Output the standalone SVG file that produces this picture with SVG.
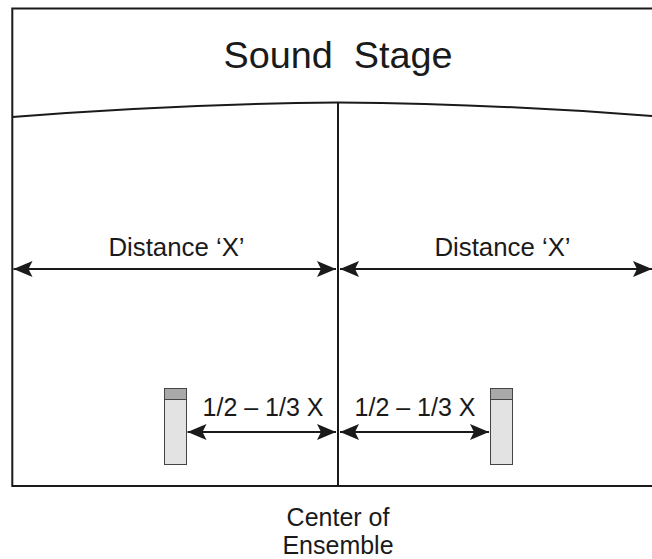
<svg xmlns="http://www.w3.org/2000/svg" width="652" height="559" viewBox="0 0 652 559">
<style>
text{font-family:"Liberation Sans",Arial,sans-serif;fill:#1a1a1a;text-anchor:middle}
.l{fill:none;stroke:#1a1a1a;stroke-width:2}
.a{fill:none;stroke:#1a1a1a;stroke-width:2;marker-start:url(#h);marker-end:url(#h)}
.b{fill:#e3e3e3;stroke:#444;stroke-width:1}
.c{fill:#a9a9a9;stroke:#444;stroke-width:1}
.m{font-size:25px}
</style>
<defs><marker id="h" viewBox="0 0 20 16" refX="19" refY="8" markerWidth="20" markerHeight="16" markerUnits="userSpaceOnUse" orient="auto-start-reverse"><path d="M0 0L19 8L0 16L4 8Z" fill="#1a1a1a"/></marker></defs>
<rect width="652" height="559" fill="#fff"/>
<g id="stage-frame"><path class="l" d="M652 8.500H12.300V486H652"/></g>
<g id="stage-edge"><path class="l" d="M12.300 117Q180 104 338 102.500Q500 104 652 116"/></g>
<g id="center-line"><path class="l" d="M338 102.500V486"/></g>
<g id="connectors">
<path class="a" d="M13.500 269H336"/>
<path class="a" d="M340 269H652"/>
<path class="a" d="M187.500 432H336"/>
<path class="a" d="M340 432H489"/>
</g>
<g id="speaker-left"><rect class="b" x="164.500" y="388.500" width="22" height="76"/><rect class="c" x="164.500" y="388.500" width="22" height="11"/></g>
<g id="speaker-right"><rect class="b" x="490.500" y="388.500" width="22" height="76"/><rect class="c" x="490.500" y="388.500" width="22" height="11"/></g>
<text x="338" y="68" font-size="37.800" xml:space="preserve">Sound  Stage</text>
<text class="m" x="176.500" y="256" style="font-size:25.800px">Distance ‘X’</text>
<text class="m" x="502.500" y="256" style="font-size:25.800px">Distance ‘X’</text>
<text class="m" x="263" y="416">1/2 – 1/3 X</text>
<text class="m" x="415" y="416">1/2 – 1/3 X</text>
<text class="m" x="338" y="526">Center of</text>
<text class="m" x="338" y="553.500">Ensemble</text>
</svg>
